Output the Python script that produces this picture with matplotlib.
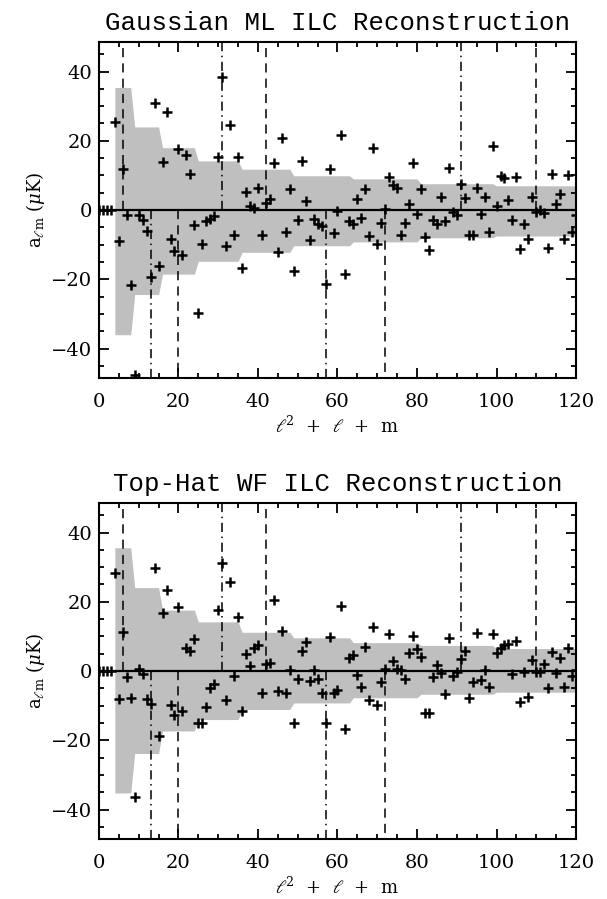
import numpy as np
import matplotlib
matplotlib.use("Agg")
import matplotlib.pyplot as plt
from matplotlib.ticker import MultipleLocator

# a_lm values indexed by l^2 + l + m (index 0..120); first four are the monopole/dipole
gauss_vals = [
    0, 0, 0, 0,
    25.5, -9.0, 11.8, -1.3, -21.5,                                   # l=2
    -47.5, -1.3, -3.0, -6.1, -19.3, 30.8, -16.2,                     # l=3
    14.0, 28.4, -8.5, -11.7, 17.6, -13.0, 15.8, 10.3, -4.4,          # l=4
    -29.6, -9.8, -3.2, -2.5, -1.8, 15.2, 38.4, -10.4, 24.5, -7.1, 15.2,   # l=5
    -16.7, 5.3, 1.3, 0.5, 6.3, -7.2, 2.1, 3.1, 13.5, -12.2, 20.8, -6.3, 6.1,   # l=6
    -17.5, -3.0, 14.2, 2.5, -8.7, -2.6, -4.1, -4.7, -21.4, 11.8, -6.6, -0.4,
    21.6, -18.6, -3.2,                                               # l=7
    -3.9, 3.1, -2.2, 6.0, -7.5, 17.8, -9.7, -3.6, 0.2, 9.4, 7.2, 6.4, -7.2,
    -3.7, 1.8, 13.5, -1.0,                                           # l=8
    6.0, -7.7, -11.4, -2.9, -3.9, 3.9, -3.2, 12.1, -0.6, -1.3, 7.6, 3.4, -7.1,
    -7.2, 6.5, -1.2, 3.9, -6.3, 18.6,                                # l=9
    1.2, 9.7, 9.2, 2.8, -2.9, 9.4, -11.2, -3.9, -8.5, 3.9, -0.5, 0.0, -0.9,
    -11.0, 10.5, 1.8, 4.5, -8.5, 10.1, -6.4, -1.3,                   # l=10
]

tophat_vals = [
    0, 0, 0, 0,
    28.4, -8.0, 11.2, -1.7, -7.7,
    -36.3, 0.6, -0.8, -8.0, -9.6, 29.9, -18.8,
    16.9, 23.3, -9.8, -12.7, 18.5, -11.6, 6.6, 5.8, 9.2,
    -14.9, -14.9, -10.4, -4.8, -3.6, 17.5, 31.1, -8.4, 25.8, -1.5, 15.7,
    -11.6, 4.9, 1.5, 6.7, 7.5, -6.3, 1.9, 2.2, 20.5, -5.8, 11.6, -6.3, 0.3,
    -15.1, -2.4, 5.8, 8.5, -2.9, 0.3, -2.4, -6.3, -15.1, 9.9, -6.3, -5.5,
    18.8, -16.6, 3.9,
    4.5, -1.0, -4.5, 6.9, -8.4, 12.8, -9.9, -3.2, 0.5, 10.8, 2.9, 0.5, 0.3,
    -2.4, 5.1, 10.0, 6.3,
    4.0, -12.0, -12.2, -1.6, 1.8, -0.7, -6.6, 9.6, -1.4, -0.2, 3.5, 5.8, -7.7,
    -3.2, 10.9, -2.6, 0.4, -4.5, 10.6,
    5.3, 6.7, 7.5, 7.9, -0.8, 8.7, -8.9, -0.2, -7.4, 3.2, -0.2, -0.2, 2.0,
    -5.0, 5.5, -0.5, 3.8, -4.5, 6.6, -1.3, 0.2,
]

# grey band edges for each multipole l = 2..10
ells = [2, 3, 4, 5, 6, 7, 8, 9, 10]
gauss_hi = [35.4, 24.0, 18.0, 14.2, 11.8, 9.9, 9.0, 7.6, 7.0]
gauss_lo = [-36.0, -24.4, -18.5, -14.8, -12.2, -10.3, -9.2, -8.0, -7.5]
tophat_hi = [35.6, 24.1, 17.6, 14.2, 11.2, 9.6, 8.2, 7.4, 6.5]
tophat_lo = [-35.2, -23.8, -17.3, -14.0, -11.1, -9.2, -7.7, -6.7, -6.1]

# vertical marker lines at m = 0 of each l
vline_x = [6, 13, 20, 31, 42, 57, 72, 91, 110]
vline_up = [True, False, False, True, True, False, False, True, True]

titles = ["Gaussian ML ILC Reconstruction", "Top-Hat WF ILC Reconstruction"]

plt.rcParams["font.family"] = "DejaVu Serif"
plt.rcParams["mathtext.fontset"] = "dejavuserif"

fig = plt.figure(figsize=(6.07, 8.99), dpi=100)
ax_top = fig.add_axes([0.163, 0.5795, 0.786, 0.3737])
ax_bot = fig.add_axes([0.163, 0.0667, 0.786, 0.3737])

ylim = 48.5
reps = [2 * l + 1 for l in ells]

for ax, vals, hi, lo, title in [
    (ax_top, gauss_vals, gauss_hi, gauss_lo, titles[0]),
    (ax_bot, tophat_vals, tophat_hi, tophat_lo, titles[1]),
]:
    idx = np.arange(len(vals))
    band_x = idx[4:]
    ax.fill_between(band_x, np.repeat(lo, reps), np.repeat(hi, reps),
                    color="#bfbfbf", lw=0, zorder=1)

    for l, x, up in zip(ells, vline_x, vline_up):
        ls = (0, (6, 4)) if l % 2 == 0 else (0, (6, 3, 1, 3))
        y1 = ylim if up else -ylim
        ax.plot([x, x], [0, y1], color="black", lw=1.1, ls=ls, zorder=2)

    ax.axhline(0, color="black", lw=1.6, zorder=3)
    ax.plot(idx, vals, ls="none", marker="+", ms=7, mew=1.8,
            color="black", zorder=4)

    ax.set_xlim(0, 120)
    ax.set_ylim(-ylim, ylim)
    ax.xaxis.set_major_locator(MultipleLocator(20))
    ax.xaxis.set_minor_locator(MultipleLocator(5))
    ax.yaxis.set_major_locator(MultipleLocator(20))
    ax.yaxis.set_minor_locator(MultipleLocator(5))
    ax.tick_params(which="both", direction="in", top=True, right=True,
                   width=1.3, labelsize=14)
    ax.tick_params(which="major", length=7)
    ax.tick_params(which="minor", length=3.5)
    ax.tick_params(axis="x", pad=11)
    ax.tick_params(axis="y", pad=5)
    for sp in ax.spines.values():
        sp.set_linewidth(1.5)

    ax.set_xlabel(r"$\ell^2$  +  $\ell$  +  m", fontsize=13, va="center")
    ax.xaxis.set_label_coords(0.5, -0.143)
    ax.set_ylabel(r"a$_{\ell\mathrm{m}}$ ($\mu$K)", fontsize=13, va="center")
    ax.yaxis.set_label_coords(-0.134, 0.5)
    ax.text(0.5, 1.058, title, transform=ax.transAxes, ha="center",
            va="center", fontsize=18.5, family="Liberation Mono")

fig.savefig("out.png", dpi=100)
